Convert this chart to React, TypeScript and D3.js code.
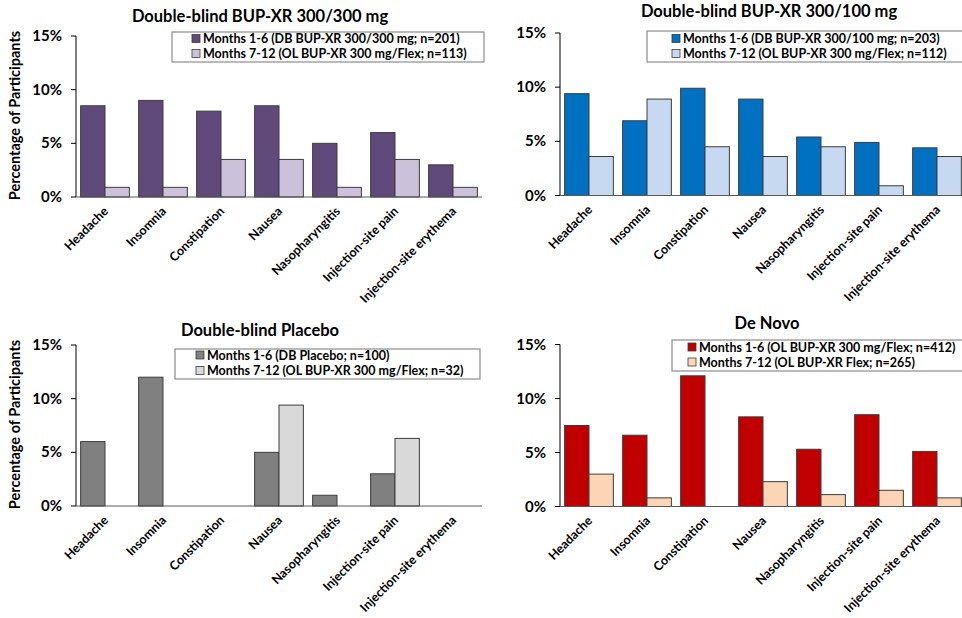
import React from "react";
import * as d3 from "d3";

// Adverse events shown on every panel
const categories = [
  "Headache",
  "Insomnia",
  "Constipation",
  "Nausea",
  "Nasopharyngitis",
  "Injection-site pain",
  "Injection-site erythema",
];

const yTicks = [0, 5, 10, 15];

// Percentage of participants, months 1-6 and months 7-12, per panel
const db300Months1to6 = [8.5, 9.0, 8.0, 8.5, 5.0, 6.0, 3.0];
const db300Months7to12 = [0.9, 0.9, 3.5, 3.5, 0.9, 3.5, 0.9];

const db100Months1to6 = [9.4, 6.9, 9.9, 8.9, 5.4, 4.9, 4.4];
const db100Months7to12 = [3.6, 8.9, 4.5, 3.6, 4.5, 0.9, 3.6];

const placeboMonths1to6 = [6.0, 12.0, 0, 5.0, 1.0, 3.0, 0];
const placeboMonths7to12 = [0, 0, 0, 9.4, 0, 6.3, 0];

const deNovoMonths1to6 = [7.5, 6.6, 12.1, 8.3, 5.3, 8.5, 5.1];
const deNovoMonths7to12 = [3.0, 0.8, 0, 2.3, 1.1, 1.5, 0.8];

const panelTitles = [
  "Double-blind BUP-XR 300/300 mg",
  "Double-blind BUP-XR 300/100 mg",
  "Double-blind Placebo",
  "De Novo",
];

const legendLabels = [
  ["Months 1-6 (DB BUP-XR 300/300 mg; n=201)", "Months 7-12 (OL BUP-XR 300 mg/Flex; n=113)"],
  ["Months 1-6 (DB BUP-XR 300/100 mg; n=203)", "Months 7-12 (OL BUP-XR 300 mg/Flex; n=112)"],
  ["Months 1-6 (DB Placebo; n=100)", "Months 7-12 (OL BUP-XR 300 mg/Flex; n=32)"],
  ["Months 1-6 (OL BUP-XR 300 mg/Flex; n=412)", "Months 7-12 (OL BUP-XR Flex; n=265)"],
];

const seriesValues = [
  [db300Months1to6, db300Months7to12],
  [db100Months1to6, db100Months7to12],
  [placeboMonths1to6, placeboMonths7to12],
  [deNovoMonths1to6, deNovoMonths7to12],
];

const seriesColors = [
  ["#604A7B", "#CCC1DA"],
  ["#0070C0", "#C6D9F1"],
  ["#808080", "#D9D9D9"],
  ["#C00000", "#FCD5B5"],
];

const yAxisTitle = "Percentage of Participants";

// Panel placement on the page
const layouts = [
  { x0: 76, yTop: 36, yBase: 197, titleX: 260, titleY: 21.5, showYTitle: true,
    legend: { x: 172, y: 32, w: 312, h: 30, sw: 20, r1: 11, r2: 26 } },
  { x0: 560, yTop: 33, yBase: 195.5, titleX: 769, titleY: 17, showYTitle: false,
    legend: { x: 647, y: 31, w: 330, h: 31, sw: 25, r1: 12, r2: 27 } },
  { x0: 76, yTop: 345, yBase: 506, titleX: 260, titleY: 336, showYTitle: true,
    legend: { x: 175, y: 349, w: 305, h: 30, sw: 21, r1: 10.5, r2: 26 } },
  { x0: 560, yTop: 344.5, yBase: 506.5, titleX: 767, titleY: 329, showYTitle: false,
    legend: { x: 672, y: 340, w: 310, h: 31, sw: 16, r1: 11.5, r2: 26.5 } },
];

const FONT = "Lato, 'Open Sans', sans-serif";
const BAND = 58;

function Panel({ idx }: { idx: number }) {
  const L = layouts[idx];
  const values = seriesValues[idx];
  const colors = seriesColors[idx];

  const x = d3
    .scaleBand<string>()
    .domain(categories)
    .range([L.x0, L.x0 + BAND * categories.length])
    .paddingInner(0.16)
    .paddingOuter(0.08);
  const inner = d3
    .scaleBand<number>()
    .domain([0, 1])
    .range([0, x.bandwidth()]);
  const y = d3.scaleLinear().domain([0, 15]).range([L.yBase, L.yTop]);

  const lg = L.legend;

  return (
    <g>
      <text
        x={L.titleX}
        y={L.titleY}
        textAnchor="middle"
        fontFamily={FONT}
        fontWeight={700}
        fontSize={16.5}
        fill="#000"
      >
        {panelTitles[idx]}
      </text>

      {L.showYTitle && (
        <text
          transform={`translate(20,${(L.yTop + L.yBase) / 2 - 1}) rotate(-90)`}
          textAnchor="middle"
          fontFamily={FONT}
          fontWeight={700}
          fontSize={14.5}
          fill="#000"
        >
          {yAxisTitle}
        </text>
      )}

      {/* bars */}
      {categories.map((c, i) =>
        values.map((vals, s) =>
          vals[i] > 0 ? (
            <rect
              key={`${c}-${s}`}
              x={(x(c) ?? 0) + (inner(s) ?? 0)}
              y={y(vals[i])}
              width={inner.bandwidth()}
              height={y(0) - y(vals[i])}
              fill={colors[s]}
              stroke="#3c3c3c"
              strokeWidth={1}
            />
          ) : null
        )
      )}

      {/* y axis */}
      <line x1={L.x0} x2={L.x0} y1={L.yTop} y2={L.yBase} stroke="#000" strokeWidth={1} />
      {yTicks.map((t) => (
        <g key={t}>
          <line x1={L.x0 - 5} x2={L.x0} y1={y(t)} y2={y(t)} stroke="#000" strokeWidth={1} />
          <text
            x={L.x0 - 14}
            y={y(t) + 5}
            textAnchor="end"
            fontFamily={FONT}
            fontWeight={700}
            fontSize={15}
            fill="#000"
          >
            {`${t}%`}
          </text>
        </g>
      ))}

      {/* x axis */}
      <line
        x1={L.x0}
        x2={L.x0 + BAND * categories.length}
        y1={L.yBase}
        y2={L.yBase}
        stroke="#595959"
        strokeWidth={1}
      />
      {categories.map((c) => {
        const cx = (x(c) ?? 0) + x.bandwidth() / 2 + 4;
        const cy = L.yBase + 15;
        return (
          <text
            key={c}
            transform={`translate(${cx},${cy}) rotate(-45)`}
            textAnchor="end"
            fontFamily={FONT}
            fontWeight={700}
            fontSize={12.5}
            fill="#000"
          >
            {c}
          </text>
        );
      })}

      {/* legend */}
      <rect x={lg.x} y={lg.y} width={lg.w} height={lg.h} fill="#fff" stroke="#8c8c8c" strokeWidth={1.2} />
      {legendLabels[idx].map((lab, s) => {
        const base = lg.y + (s === 0 ? lg.r1 : lg.r2);
        return (
          <g key={lab}>
            <rect
              x={lg.x + lg.sw}
              y={base - 8.5}
              width={8}
              height={8}
              fill={colors[s]}
              stroke="#3c3c3c"
              strokeWidth={0.8}
            />
            <text
              x={lg.x + lg.sw + 11}
              y={base}
              fontFamily={FONT}
              fontWeight={700}
              fontSize={12.5}
              fill="#000"
            >
              {lab}
            </text>
          </g>
        );
      })}
    </g>
  );
}

export default function App() {
  return (
    <svg
      width={962}
      height={618}
      viewBox="0 0 962 618"
      style={{ position: "absolute", left: 0, top: 0, background: "#fff" }}
    >
      <rect width={962} height={618} fill="#fff" />
      {layouts.map((_, i) => (
        <Panel key={i} idx={i} />
      ))}
    </svg>
  );
}
